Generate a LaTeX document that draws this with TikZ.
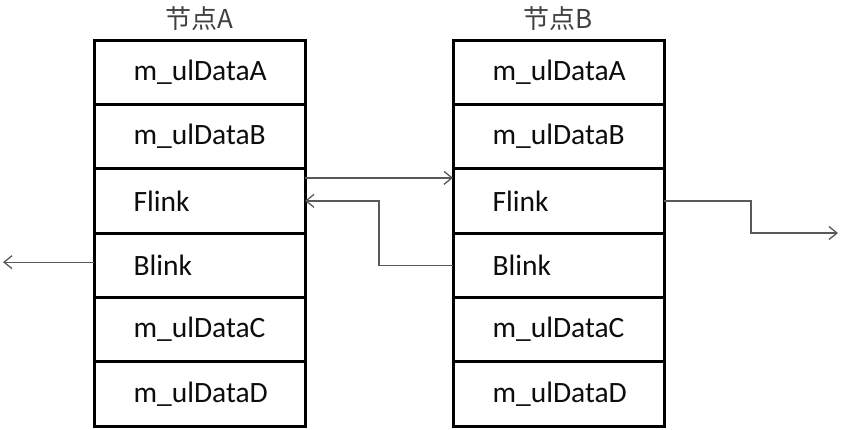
\documentclass[tikz,border=0pt]{standalone}
\usepackage{fontspec}
\setmainfont{Carlito}
\newfontfamily\cjk{Noto Sans CJK SC}
\usetikzlibrary{arrows.meta,positioning,calc}
\hyphenpenalty=10000
\definecolor{ink}{RGB}{13,13,13}
\definecolor{wire}{RGB}{89,89,89}
\definecolor{capt}{RGB}{64,64,64}
\tikzset{
  field/.style={draw=black,line width=3pt,outer sep=0pt,inner sep=0pt,
    minimum width=211pt,minimum height=64.33pt,
    text width=132pt,align=left,
    font=\fontsize{29.5}{31}\selectfont,text=ink},
  link/.style={wire,line width=1.3pt,-{Straight Barb[length=8pt,width=13pt]}},
  title/.style={font=\cjk\fontsize{26}{28}\selectfont,text=capt}
}

\begin{document}
\begin{tikzpicture}[x=1pt,y=1pt]
  \useasboundingbox (0,0) rectangle (841,429);
  % node A
  \node[field] (adataa) at (199.5,356.8) {m\_ulDataA};
  \node[field,below=0pt of adataa] (adatab) {m\_ulDataB};
  \node[field,below=0pt of adatab] (aflink) {Flink};
  \node[field,below=0pt of aflink] (ablink) {Blink};
  \node[field,below=0pt of ablink] (adatac) {m\_ulDataC};
  \node[field,below=0pt of adatac] (adatad) {m\_ulDataD};
  \node[title,above=6pt of adataa] (atitle) {节点A};
  % node B
  \node[field] (bdataa) at (558.5,356.8) {m\_ulDataA};
  \node[field,below=0pt of bdataa] (bdatab) {m\_ulDataB};
  \node[field,below=0pt of bdatab] (bflink) {Flink};
  \node[field,below=0pt of bflink] (bblink) {Blink};
  \node[field,below=0pt of bblink] (bdatac) {m\_ulDataC};
  \node[field,below=0pt of bdatac] (bdatad) {m\_ulDataD};
  \node[title,above=6pt of bdataa] (btitle) {节点B};
  % links
  \coordinate (bnext) at ([xshift=174pt]bflink.south east);
  \coordinate (aprev) at ([xshift=-91pt,yshift=3pt]ablink.west);
  \draw[link] ([yshift=23pt]aflink.east) -- ([yshift=23pt]bflink.west);
  \draw[link] (bblink.west) -| ($(aflink.east)!.5!(bflink.west)$) |- (aflink.east);
  \draw[link] (bflink.east) -| ($(bflink.east)!.5!(bnext)$) |- (bnext);
  \draw[link] ([yshift=3pt]ablink.west) -- (aprev);
\end{tikzpicture}
\end{document}
